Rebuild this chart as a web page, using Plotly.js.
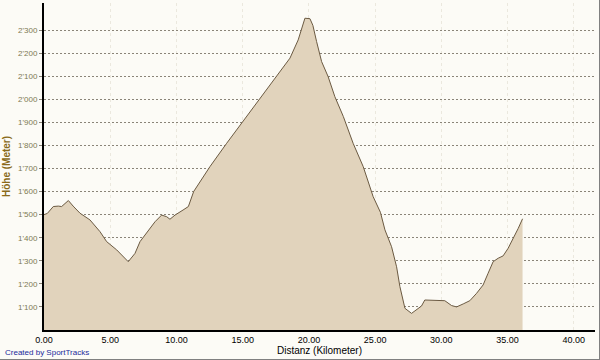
<!DOCTYPE html>
<html>
<head>
<meta charset="utf-8">
<script src="https://cdn.plot.ly/plotly-3.0.1.min.js"></script>
<style>
html,body{margin:0;padding:0;background:#fcfbf6;}
#chart{width:599px;height:359px;border-right:1px solid #808080;border-bottom:1px solid #808080;}
</style>
</head>
<body>
<div id="chart"></div>
<script>
const distanceKm = [0, 0.25, 0.7, 1.08, 1.33, 1.84, 2.2, 2.72, 3.47, 4.23, 4.73, 5.49, 6.36, 6.87, 7.25, 7.75, 8.38, 8.88, 9.26, 9.51, 9.89, 10.5, 10.9, 11.3, 11.8, 12.53, 13.79, 14.92, 16.3, 17.56, 18.57, 19.19, 19.45, 19.7, 20.08, 20.3, 20.58, 20.96, 21.45, 21.96, 22.6, 23.34, 24.1, 24.85, 25.4, 25.74, 26.24, 26.62, 26.87, 27.25, 27.75, 28.13, 28.5, 28.75, 29.38, 29.9, 30.26, 30.77, 31.15, 31.65, 32.15, 32.66, 33.15, 33.53, 33.91, 34.29, 34.66, 35.04, 35.42, 35.8, 36.13];
const elevationM = [1500, 1505, 1535, 1537, 1535, 1561, 1537, 1506, 1477, 1426, 1383, 1347, 1296, 1332, 1383, 1419, 1469, 1498, 1491, 1480, 1498, 1520, 1535, 1600, 1645, 1708, 1809, 1896, 2004, 2098, 2178, 2257, 2310, 2351, 2349, 2320, 2250, 2163, 2098, 2011, 1925, 1809, 1708, 1578, 1510, 1434, 1361, 1274, 1188, 1094, 1072, 1087, 1104, 1130, 1130, 1130, 1127, 1106, 1100, 1113, 1127, 1159, 1195, 1246, 1296, 1311, 1321, 1354, 1395, 1440, 1482];
const yTickVals = [1100, 1200, 1300, 1400, 1500, 1600, 1700, 1800, 1900, 2000, 2100, 2200, 2300];
const yTickText = ["1'100", "1'200", "1'300", "1'400", "1'500", "1'600", "1'700", "1'800", "1'900", "2'000", "2'100", "2'200", "2'300"];
const xTickVals = [0, 5, 10, 15, 20, 25, 30, 35, 40];
const xTickText = ["0.00", "5.00", "10.00", "15.00", "20.00", "25.00", "30.00", "35.00", "40.00"];

const trace = {
  x: distanceKm,
  y: elevationM,
  type: 'scatter',
  mode: 'lines',
  fill: 'tozeroy',
  fillcolor: '#e1d3bc',
  line: {color: '#6b5a42', width: 1},
  hoverinfo: 'skip'
};

const layout = {
  width: 599,
  height: 359,
  margin: {l: 44, r: 4, t: 3, b: 29, pad: 0},
  paper_bgcolor: '#fcfbf6',
  plot_bgcolor: '#fcfbf6',
  showlegend: false,
  font: {family: 'Liberation Sans, Arial, sans-serif', size: 9, color: '#000'},
  xaxis: {
    range: [0, 41.6],
    tickvals: xTickVals,
    ticktext: xTickText,
    showgrid: true,
    gridcolor: '#ebe8de',
    griddash: 'dot',
    gridwidth: 1,
    zeroline: false,
    showline: true,
    linecolor: '#000',
    linewidth: 2,
    ticks: '',
    tickfont: {size: 9, color: '#000'},
    title: {text: 'Distanz (Kilometer)', font: {size: 10, color: '#000'}, standoff: 3}
  },
  yaxis: {
    range: [1000, 2417],
    tickvals: yTickVals,
    ticktext: yTickText,
    showgrid: true,
    gridcolor: '#8a8478',
    griddash: '2px,2px',
    gridwidth: 1,
    zeroline: false,
    showline: true,
    linecolor: '#000',
    linewidth: 2,
    ticks: 'outside',
    ticklen: 3,
    tickcolor: '#8a8478',
    tickfont: {size: 8, color: '#7d7a52'},
    title: {text: 'Höhe (Meter)', font: {size: 10, color: '#8a6a1a', weight: 'bold'}, standoff: 6}
  },
  annotations: [{
    text: 'Created by SportTracks',
    xref: 'paper', yref: 'paper',
    x: -0.075, y: -0.068,
    xanchor: 'left', yanchor: 'middle',
    showarrow: false,
    font: {size: 8, color: '#1a2a9a'}
  }]
};

Plotly.newPlot('chart', [trace], layout, {displayModeBar: false, staticPlot: true});
</script>
</body>
</html>
